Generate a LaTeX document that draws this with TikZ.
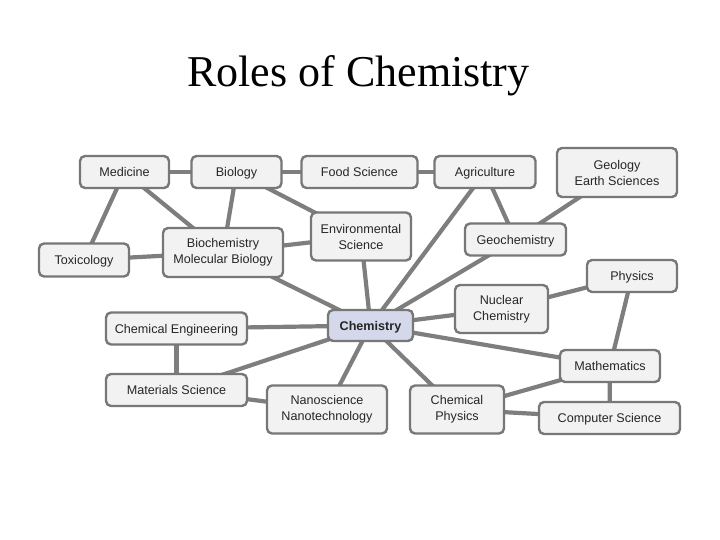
\documentclass[tikz,border=0pt]{standalone}
\usepackage{fontspec}
\setmainfont{Liberation Serif}
\newfontfamily\boxfont{Liberation Sans}
\usetikzlibrary{backgrounds}
\definecolor{edgegray}{HTML}{7E7E7E}
\definecolor{boxfill}{HTML}{F2F2F2}
\definecolor{boxdraw}{HTML}{777777}
\definecolor{chemfill}{HTML}{D5D7EA}
\definecolor{txtgray}{HTML}{262626}
\tikzset{
  topic/.style={draw=boxdraw, fill=boxfill, line width=2.4pt, rounded corners=5pt,
    inner sep=0pt, align=center, text=txtgray,
    font=\boxfont\fontsize{12.6}{16}\selectfont},
  oneline/.style={text height=9pt, text depth=0pt},
  link/.style={draw=edgegray, line width=4.2pt},
}
\begin{document}
\begin{tikzpicture}[x=1pt,y=-1pt]
\useasboundingbox (0,0) rectangle (720,540);
\node[font=\fontsize{44}{48}\selectfont, anchor=base] (title) at (358.5,87) {Roles of Chemistry};

\node[topic, oneline, minimum width=89pt, minimum height=32pt] (med) at (124.5,172) {Medicine};
\node[topic, oneline, minimum width=90pt, minimum height=32pt] (bio) at (236.5,172) {Biology};
\node[topic, oneline, minimum width=116pt, minimum height=32pt] (food) at (359.5,172) {Food Science};
\node[topic, oneline, minimum width=101pt, minimum height=32pt] (agri) at (485,172) {Agriculture};
\node[topic, minimum width=120pt, minimum height=49pt] (geo) at (617,172.5) {Geology\\Earth Sciences};
\node[topic, oneline, minimum width=90pt, minimum height=33pt] (tox) at (84,260) {Toxicology};
\node[topic, minimum width=120pt, minimum height=49pt] (biochem) at (223,252.5) {Biochemistry\\Molecular Biology};
\node[topic, minimum width=100pt, minimum height=48pt] (env) at (361,236.5) {Environmental\\Science};
\node[topic, oneline, minimum width=101pt, minimum height=32pt] (geochem) at (515.5,239.5) {Geochemistry};
\node[topic, oneline, minimum width=90pt, minimum height=32pt] (phys) at (632,276) {Physics};
\node[topic, minimum width=93pt, minimum height=48pt] (nuc) at (501.5,309) {Nuclear\\Chemistry};
\node[topic, oneline, fill=chemfill, minimum width=85pt, minimum height=31pt, font=\boxfont\bfseries\fontsize{12.6}{16}\selectfont] (chem) at (370.5,325.5) {Chemistry};
\node[topic, oneline, minimum width=141pt, minimum height=32pt] (cheng) at (176.5,328.5) {Chemical Engineering};
\node[topic, oneline, minimum width=141pt, minimum height=32pt] (mat) at (176.5,390) {Materials Science};
\node[topic, minimum width=120pt, minimum height=48pt] (nano) at (327,409.5) {Nanoscience\\Nanotechnology};
\node[topic, minimum width=94pt, minimum height=48pt] (chphys) at (457,409.5) {Chemical\\Physics};
\node[topic, oneline, minimum width=100pt, minimum height=32pt] (math) at (610,366) {Mathematics};
\node[topic, oneline, minimum width=141pt, minimum height=32pt] (cs) at (609.5,418) {Computer Science};

\begin{pgfonlayer}{background}
\draw[link] (med.center) -- (bio.center);
\draw[link] (bio.center) -- (food.center);
\draw[link] (food.center) -- (agri.center);
\draw[link] (med.center) -- (tox.center);
\draw[link] (med.center) -- (biochem.center);
\draw[link] (bio.center) -- (biochem.center);
\draw[link] (bio.center) -- (env.center);
\draw[link] (tox.center) -- (biochem.center);
\draw[link] (biochem.center) -- (env.center);
\draw[link] (biochem.center) -- (chem.center);
\draw[link] (env.center) -- (chem.center);
\draw[link] (agri.center) -- (chem.center);
\draw[link] (agri.center) -- (geochem.center);
\draw[link] (geo.center) -- (geochem.center);
\draw[link] (geochem.center) -- (chem.center);
\draw[link] (chem.center) -- (nuc.center);
\draw[link] (nuc.center) -- (phys.center);
\draw[link] (phys.center) -- (math.center);
\draw[link] (chem.center) -- (math.center);
\draw[link] (chem.center) -- (chphys.center);
\draw[link] (chem.center) -- (nano.center);
\draw[link] (chem.center) -- (cheng.center);
\draw[link] (chem.center) -- (mat.center);
\draw[link] (cheng.center) -- (mat.center);
\draw[link] (mat.center) -- (nano.center);
\draw[link] (chphys.center) -- (math.center);
\draw[link] (chphys.center) -- (cs.center);
\draw[link] (math.center) -- (cs.center);
\end{pgfonlayer}
\end{tikzpicture}
\end{document}
